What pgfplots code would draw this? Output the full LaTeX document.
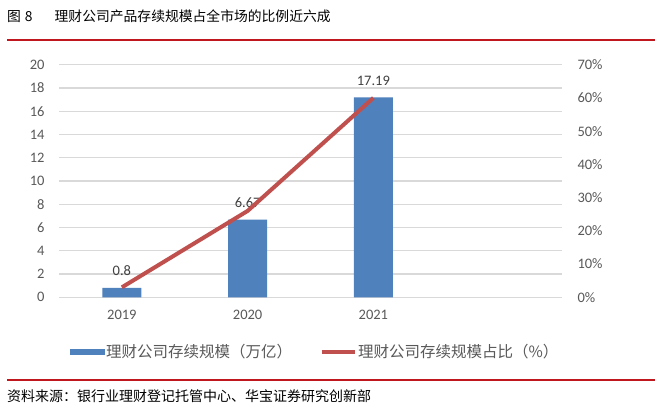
\documentclass[border=0pt]{standalone}
\usepackage{pgfplots}
\pgfplotsset{compat=1.18}
\usepackage{fontspec}
\setmainfont{Carlito}
\newfontfamily\cjk{Noto Sans CJK SC}

\definecolor{barblue}{HTML}{4F81BD}
\definecolor{linered}{HTML}{C0504D}
\definecolor{rulered}{HTML}{C0161D}
\definecolor{gridgray}{HTML}{D9D9D9}
\definecolor{ticktext}{HTML}{595959}
\definecolor{labeltext}{HTML}{404040}

\pgfplotstableread{
x  scale  share
0  0.80   3
1  6.67   26
2  17.19  60
}\datatable

\begin{document}
\begin{tikzpicture}
\fill[white] (0bp,0bp) rectangle (660bp,410bp);

\begin{axis}[
    at={(59bp,112.7bp)}, anchor=south west,
    scale only axis, width=503bp, height=232.6bp,
    xmin=-0.5, xmax=3.5, ymin=0, ymax=20,
    xtick={0,1,2}, xticklabels={2019,2020,2021},
    ytick={0,2,...,20}, yticklabels={0,2,4,6,8,10,12,14,16,18,20},
    axis line style={draw=none},
    major tick length=0,
    ymajorgrids, grid style={gridgray, line width=1.3bp},
    tick label style={font=\fontsize{14.5bp}{16bp}\selectfont, text=ticktext},
    yticklabel style={xshift=-11bp},
    xticklabel style={yshift=-9bp},
    /pgf/number format/assume math mode=true,
    clip=false,
]
\addplot[ybar, bar width=0.31, fill=barblue, draw=none,
    nodes near coords,
    every node near coord/.append style={font=\fontsize{14.5bp}{16bp}\selectfont, text=labeltext, anchor=base, inner sep=0, yshift=12bp},
] table[x=x, y=scale] {\datatable};
\end{axis}

\begin{axis}[
    at={(59bp,112.7bp)}, anchor=south west,
    scale only axis, width=503bp, height=232.6bp,
    xmin=-0.5, xmax=3.5, ymin=0, ymax=70,
    axis y line*=right, axis x line=none,
    ytick={0,10,...,70}, yticklabels={0\%,10\%,20\%,30\%,40\%,50\%,60\%,70\%},
    axis line style={draw=none},
    major tick length=0,
    tick label style={font=\fontsize{14.5bp}{16bp}\selectfont, text=ticktext},
    yticklabel style={xshift=12bp},
    clip=false,
    legend columns=2,
    legend style={at={(0.509,-0.235)}, anchor=center, draw=none, fill=none,
        font=\cjk\fontsize{15.5bp}{17bp}\selectfont, text=ticktext,
        /tikz/every even column/.append style={column sep=26bp},
        nodes={inner sep=1.5bp}},
]
\addlegendimage{legend image code/.code={\fill[barblue] (0,-2.6bp) rectangle (34bp,2.6bp);}}
\addlegendentry{理财公司存续规模（万亿）}
\addplot[linered, line width=4bp, mark=none,
    legend image code/.code={\draw[linered, line width=4bp] (0,0) -- (33bp,0);}]
    table[x=x, y=share] {\datatable};
\addlegendentry{理财公司存续规模占比（\%）}
\end{axis}

% title and rules
\node[anchor=west, inner sep=0] at (7bp,394bp) {\cjk\fontsize{13.8bp}{16bp}\selectfont 图\hspace{4bp}8\hspace{22bp}理财公司产品存续规模占全市场的比例近六成};
\draw[rulered, line width=2.5bp] (7bp,370bp) -- (655bp,370bp);
\draw[rulered, line width=2bp] (7bp,30bp) -- (655bp,30bp);
\node[anchor=west, inner sep=0] at (7bp,14bp) {\cjk\fontsize{14bp}{16bp}\selectfont 资料来源：银行业理财登记托管中心、华宝证券研究创新部};

\pgfresetboundingbox
\useasboundingbox (0bp,0bp) rectangle (660bp,410bp);
\end{tikzpicture}
\end{document}
